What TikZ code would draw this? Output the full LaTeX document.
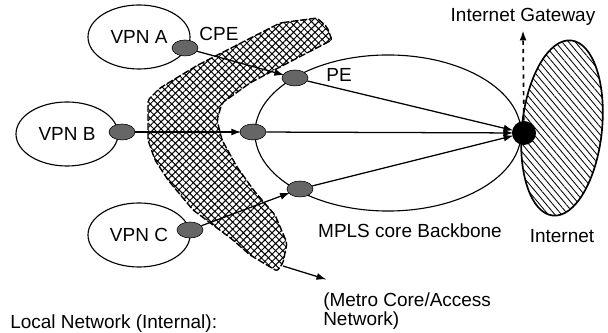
\documentclass[tikz,border=0pt]{standalone}
\usepackage{fontspec}
\setmainfont{Liberation Sans}
\usetikzlibrary{positioning,arrows.meta,shapes.geometric,patterns.meta}

\begin{document}
\begin{tikzpicture}[x=0.025cm,y=-0.025cm,
  font=\fontsize{13.5}{12.5}\selectfont,
  vpn/.style={ellipse,draw,line width=0.8pt,minimum width=2.55cm,minimum height=1.6cm,inner sep=0pt},
  router/.style={ellipse,draw,line width=0.4pt,fill=black!60,minimum width=0.65cm,minimum height=0.4cm,inner sep=0pt},
  link/.style={-{Latex[length=7pt,width=5pt]},line width=0.9pt,shorten >=-1pt}]
\useasboundingbox (0,0) rectangle (608,333);
% metro core / access band
\draw[line width=1pt,dash pattern=on 5pt off 1.5pt,rounded corners=1.5pt,
  pattern={Hatch[angle=45,distance=3.6pt,line width=0.7pt]}]
  (280,23) -- (317,18) -- (327,27) -- (332,40) -- (280,67) -- (250,83)
  -- (222,103) -- (217,120) -- (222,140) -- (237,167) -- (255,192)
  -- (275,215) -- (287,243) -- (283,263) -- (277,271) -- (250,255)
  -- (233,240) -- (193,210) -- (168,180) -- (155,160) -- (148,140)
  -- (148,100) -- (160,88) -- (198,65) -- cycle;
% internet
\node (Inet) [ellipse,draw,line width=1.2pt,rotate=-6,minimum width=2cm,minimum height=4.4cm,
  pattern={Lines[angle=-50,distance=3.6pt,line width=0.6pt]}] at (562,128) {};
\node (MPLS) [ellipse,draw,line width=0.8pt,minimum width=6.65cm,minimum height=3.9cm] at (388,133) {};
\node (VA) [vpn] at (139,37) {VPN A};
\node (VB) [vpn] at (67,134) {VPN B};
\node (VC) [vpn] at (139,235) {VPN C};
\node (CA) [router] at (185,48) {};
\node (CB) [router] at (122,132) {};
\node (CC) [router] at (190,230) {};
\node (PA) [router] at (295,78) {};
\node (PB) [router] at (253,132) {};
\node (PC) [router] at (300,189) {};
\node (GW) [circle,fill=black,minimum size=0.6cm,inner sep=0pt] at (524,133) {};
\coordinate (GWtop) at (523,32);
\coordinate (Tip) at (283,266);
\coordinate (Metro) at (325,279);
\draw[link] (CA) to (PA);
\draw[link] (CB) to (PB);
\draw[link] (CC) to (PC);
\draw[link] (PA) to (GW);
\draw[link] (PB) to (GW);
\draw[link] (PC) to (GW);
\draw[link,dashed,line width=1.2pt] (GW) to (GWtop);
\draw[link] (Tip) to (Metro);
\node (GWlab) [above=1pt of GWtop] {Internet Gateway};
\node (CPElab) at (219,34) {CPE};
\node (PElab) at (339,75) {PE};
\node (MPLSlab) at (410,231) {MPLS core Backbone};
\node (Inetlab) at (562,236) {Internet};
\node (Metrolab) [anchor=north west,align=left,inner sep=0pt] at (323,292) {(Metro Core/Access\\Network)};
\node (Local) [anchor=west,inner sep=0pt] at (10,324) {Local Network (Internal):};
\end{tikzpicture}
\end{document}
